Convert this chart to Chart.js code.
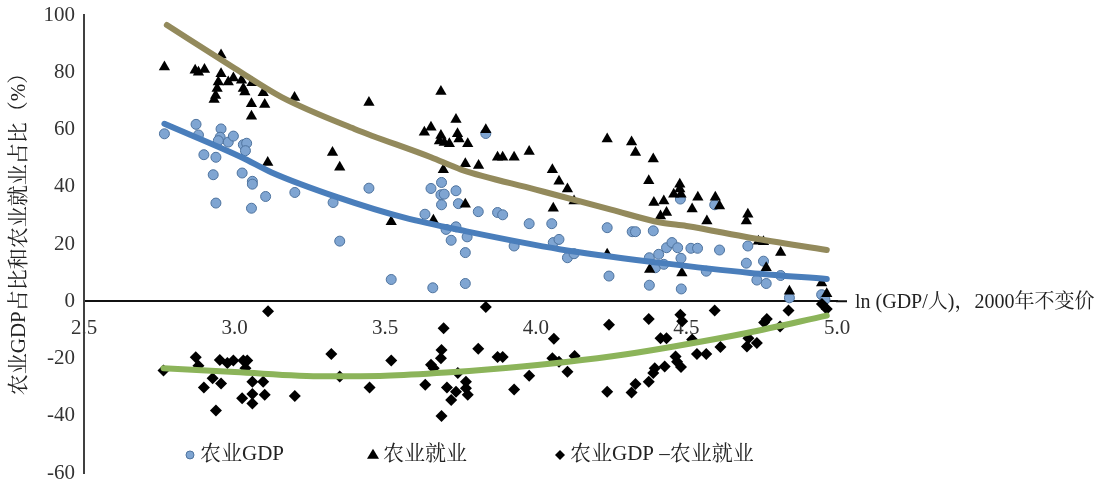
<!DOCTYPE html>
<html lang="zh">
<head>
<meta charset="utf-8">
<title>农业GDP占比和农业就业占比</title>
<script src="https://cdn.jsdelivr.net/npm/chart.js@4.4.1/dist/chart.umd.min.js"></script>
<style>
  html, body { margin: 0; padding: 0; background: #ffffff; }
  #wrap { width: 1108px; height: 481px; position: relative; }
</style>
</head>
<body>
<div id="wrap"><canvas id="chart" width="1108" height="481"></canvas></div>
<script>
// 农业GDP占比（%），横轴为 ln(人均GDP)
const gdpX = [2.767,2.872,2.88,2.955,2.952,2.946,2.979,2.996,3.029,3.04,3.036,2.898,2.938,2.929,3.025,3.059,3.059,3.103,2.938,3.056,
  3.20,3.327,3.446,3.349,3.52,3.658,3.766,3.632,3.652,3.687,3.685,3.696,3.687,3.735,3.743,3.702,3.735,3.719,3.772,3.766,
  3.834,3.809,3.873,3.89,3.928,3.978,4.053,4.058,4.077,4.105,4.127,4.237,4.243,4.32,4.331,4.39,4.377,4.408,4.377,4.397,
  4.434,4.452,4.471,4.48,4.425,4.482,4.483,4.515,4.537,4.566,4.61,4.594,4.704,4.699,4.756,4.734,4.765,4.813,4.842,4.949,4.96];
const gdpY = [58.5,61.8,58.1,60.2,57.3,56.1,55.6,57.7,54.7,55.2,52.6,51.2,50.3,44.2,44.8,41.9,40.9,36.6,34.3,32.5,
  38,34.5,39.5,21,7.6,4.7,6.2,30.4,39.4,41.5,37.2,37.4,33.7,38.6,34.1,25.1,26,21.3,22.5,17,
  58.6,31.3,31,30.2,19.3,27.1,27.1,20.5,21.6,15.2,16.6,25.7,8.8,24.3,24.3,24.6,15.2,16.4,5.6,11.7,
  18.7,20.5,18.7,35.7,12.9,15,4.3,18.5,18.5,10.5,17.9,33.7,19.3,13.3,14,7.4,6.2,9,1.2,2.3,0.6];

// 农业就业占比（%）
const empX = [2.767,2.869,2.88,2.90,2.955,2.955,2.946,2.942,2.937,2.932,2.979,2.996,3.023,3.029,3.034,3.058,3.095,3.056,3.10,3.056,
  3.11,3.199,3.446,3.325,3.349,3.52,3.685,3.735,3.63,3.652,3.685,3.68,3.696,3.713,3.74,3.745,3.774,3.693,3.766,3.766,
  3.66,3.834,3.81,3.873,3.89,3.928,3.978,4.237,4.318,4.331,4.39,4.055,4.077,4.105,4.127,4.058,4.237,4.375,4.392,4.378,
  4.478,4.478,4.458,4.482,4.425,4.434,4.414,4.519,4.538,4.596,4.61,4.568,4.704,4.699,4.739,4.756,4.813,4.765,4.485,4.842,4.949,4.966];
const empY = [81.8,80.7,80,81,86,79.5,76.6,74.3,71.9,70.5,76.6,78,77.2,74.3,73.1,76.3,72.8,69,68.7,64.6,
  48.5,71.2,69.4,52,46.8,27.8,73.3,63.5,59,60.8,57.9,56,55.5,55,58.5,56.7,55,45.9,48,33.9,
  28.3,59.9,47.4,50.3,50.3,50.3,52.3,56.7,55.6,52,49.7,45.9,41.9,39.2,35,32.5,16.4,42.1,34.5,11.1,
  40.9,39.2,37.4,37.4,35,31,29.8,32.2,36.3,36.3,33.3,28,30.4,28,21,20.8,17,11.7,9.9,3.5,6.4,2.6];

// 农业GDP占比 − 农业就业占比（百分点）
const diffX = [3.111,2.764,2.871,2.88,2.898,2.927,2.938,2.951,2.955,2.976,2.996,3.029,3.042,3.036,3.025,3.059,3.059,3.059,3.095,3.10,
  3.20,3.321,3.349,3.448,3.52,3.633,3.652,3.661,3.685,3.687,3.694,3.687,3.705,3.719,3.735,3.741,3.768,3.768,3.774,3.809,
  3.834,3.873,3.89,3.928,3.978,4.06,4.055,4.077,4.105,4.129,4.243,4.237,4.318,4.331,4.375,4.375,4.39,4.395,4.414,4.434,
  4.428,4.48,4.486,4.464,4.469,4.482,4.519,4.535,4.566,4.594,4.613,4.701,4.706,4.734,4.758,4.767,4.811,4.839,4.966,4.95];
const diffY = [-3.5,-24.2,-19.6,-22.5,-30.1,-26.9,-38.2,-20.5,-28.7,-21.6,-20.7,-20.7,-20.7,-23.4,-33.9,-28.1,-32.4,-35.7,-28.1,-32.7,
  -33.1,-18.4,-26.3,-30.1,-20.7,-29.2,-22.2,-23.4,-19.9,-17,-9.4,-40.1,-30.1,-34.5,-31.6,-25.1,-28.1,-30.4,-32.7,-16.6,
  -2,-19.5,-19.5,-30.8,-26,-13.1,-19.9,-21.1,-24.6,-19.1,-8.2,-31.6,-31.9,-28.9,-6.2,-28.1,-25.1,-23.4,-12.9,-12.9,
  -22.8,-4.7,-7,-19.3,-21.1,-23,-13.4,-18.4,-18.4,-3.2,-16,-15.8,-12.9,-14.6,-7.4,-6.2,-8.8,-3.2,-2.7,-1];

// 趋势线取值
const empTrendX = [2.775,3.0,3.156,3.398,3.652,3.752,4.0,4.25,4.414,4.5,4.712,4.966];
const empTrendY = [96.5,81.4,71.3,60.2,50.3,46,39,32,27.5,26.3,22.2,17.9];
const gdpTrendX = [2.767,3.023,3.123,3.343,3.564,3.77,4.083,4.414,4.712,4.966];
const gdpTrendY = [62,50.3,45,36.3,29.2,24.4,18.1,13.4,9.9,7.8];
const diffTrendX = [2.764,3.0,3.3,3.5,3.702,3.9,4.1,4.3,4.458,4.7,4.966];
const diffTrendY = [-23.4,-24.7,-26.2,-26,-24.9,-23.3,-21.2,-18.5,-15.8,-11.1,-5];

// 坐标轴刻度
const xTicks = [2.5, 3.0, 3.5, 4.0, 4.5, 5.0];
const yTicks = [-60, -40, -20, 0, 20, 40, 60, 80, 100];

const seriesNames = ['农业GDP', '农业就业', '农业GDP –农业就业'];
const xTitle = 'ln (GDP/人)，2000年不变价';
const yTitle = '农业GDP占比和农业就业占比（%）';

const pts = (xs, ys) => xs.map((x, i) => ({ x: x, y: ys[i] }));

const SERIF = "'Liberation Serif', 'Times New Roman', 'Noto Serif CJK SC', 'Noto Sans CJK SC', serif";
const CJK = "'Liberation Serif', 'Noto Serif CJK SC', 'Noto Sans CJK SC', serif";

const COL_GDP_FILL = '#7fa5d2';
const COL_GDP_EDGE = '#4e739e';
const COL_EMP_LINE = '#938a5c';
const COL_GDP_LINE = '#4a7ebb';
const COL_DIFF_LINE = '#8cb45a';

function drawMarker(ctx, style, x, y, r, fill, stroke) {
  ctx.save();
  ctx.beginPath();
  if (style === 'circle') {
    ctx.arc(x, y, r, 0, Math.PI * 2);
  } else if (style === 'triangle') {
    const h = r * 1.7;
    ctx.moveTo(x, y - h * 0.62);
    ctx.lineTo(x + r, y + h * 0.38);
    ctx.lineTo(x - r, y + h * 0.38);
    ctx.closePath();
  } else {
    ctx.moveTo(x, y - r);
    ctx.lineTo(x + r, y);
    ctx.lineTo(x, y + r);
    ctx.lineTo(x - r, y);
    ctx.closePath();
  }
  ctx.fillStyle = fill;
  ctx.fill();
  if (stroke) { ctx.strokeStyle = stroke; ctx.lineWidth = 1; ctx.stroke(); }
  ctx.restore();
}

// 图例与坐标轴标题
const annotations = {
  id: 'annotations',
  afterDraw(chart) {
    const ctx = chart.ctx;
    const xs = chart.scales.x, ys = chart.scales.y;
    ctx.save();
    // 横轴向右稍作延伸
    const y0 = ys.getPixelForValue(0);
    ctx.strokeStyle = '#111';
    ctx.lineWidth = 2;
    ctx.beginPath();
    ctx.moveTo(xs.right - 1, y0);
    ctx.lineTo(xs.right + 10, y0);
    ctx.stroke();

    // x 轴标题（位于横轴末端右侧）
    ctx.font = '20px ' + CJK;
    ctx.fillStyle = '#222';
    ctx.textAlign = 'left';
    ctx.textBaseline = 'middle';
    ctx.fillText(xTitle, xs.right + 18, y0 + 1);

    // y 轴标题（竖排）
    ctx.save();
    ctx.translate(19, 229);
    ctx.rotate(-Math.PI / 2);
    ctx.textAlign = 'center';
    ctx.font = '21px ' + CJK;
    ctx.fillText(yTitle, 0, 0);
    ctx.restore();

    // 图例
    const ly = ys.getPixelForValue(-53.7);
    const items = [
      { px: 190, style: 'circle', r: 4, fill: COL_GDP_FILL, stroke: COL_GDP_EDGE },
      { px: 373, style: 'triangle', r: 6, fill: '#000' },
      { px: 560, style: 'diamond', r: 5, fill: '#000' }
    ];
    ctx.font = '21px ' + CJK;
    ctx.textAlign = 'left';
    ctx.textBaseline = 'middle';
    items.forEach((it, i) => {
      drawMarker(ctx, it.style, it.px, ly, it.r, it.fill, it.stroke);
      ctx.fillStyle = '#222';
      ctx.fillText(seriesNames[i], it.px + 10, ly);
    });
    ctx.restore();
  }
};

const trendStyle = (color) => ({
  type: 'line',
  borderColor: color,
  borderWidth: 6,
  pointRadius: 0,
  fill: false,
  cubicInterpolationMode: 'monotone',
  borderCapStyle: 'round'
});

new Chart(document.getElementById('chart'), {
  type: 'scatter',
  data: {
    datasets: [
      Object.assign({ label: '趋势-就业', data: pts(empTrendX, empTrendY), order: 0 }, trendStyle(COL_EMP_LINE)),
      Object.assign({ label: '趋势-GDP', data: pts(gdpTrendX, gdpTrendY), order: 0 }, trendStyle(COL_GDP_LINE)),
      Object.assign({ label: '趋势-差值', data: pts(diffTrendX, diffTrendY), order: 0 }, trendStyle(COL_DIFF_LINE)),
      {
        label: seriesNames[1], data: pts(empX, empY), order: 1,
        pointStyle: 'triangle', pointRadius: 6.5,
        backgroundColor: '#000', borderColor: '#000', borderWidth: 0
      },
      {
        label: seriesNames[2], data: pts(diffX, diffY), order: 2,
        pointStyle: 'rectRot', pointRadius: 6,
        backgroundColor: '#000', borderColor: '#000', borderWidth: 0
      },
      {
        label: seriesNames[0], data: pts(gdpX, gdpY), order: 3,
        pointStyle: 'circle', pointRadius: 5,
        backgroundColor: COL_GDP_FILL, borderColor: COL_GDP_EDGE, borderWidth: 1
      }
    ]
  },
  options: {
    responsive: false,
    animation: false,
    layout: { padding: { left: 0, right: 271, top: 15, bottom: 8 } },
    plugins: { legend: { display: false }, tooltip: { enabled: false } },
    scales: {
      x: {
        type: 'linear',
        position: { y: 0 },
        min: 2.5, max: 5.0,
        afterBuildTicks: (s) => { s.ticks = xTicks.map(v => ({ value: v })); },
        afterFit: (s) => { s.paddingTop = 0; s.paddingBottom = 0; },
        ticks: {
          padding: 15,
          color: '#333',
          font: { family: SERIF, size: 21 },
          callback: (v) => Number(v).toFixed(1),
          maxRotation: 0, autoSkip: false
        },
        grid: { display: false, drawTicks: false },
        border: { display: true, color: '#111', width: 2 }
      },
      y: {
        type: 'linear',
        position: 'left',
        min: -60, max: 100,
        afterBuildTicks: (s) => { s.ticks = yTicks.map(v => ({ value: v })); },
        afterFit: (s) => { s.width = 84; s.paddingTop = 0; s.paddingBottom = 0; },
        ticks: {
          padding: 9,
          color: '#333',
          font: { family: SERIF, size: 21 },
          callback: (v) => String(v)
        },
        grid: { display: false, drawTicks: false },
        border: { display: true, color: '#404040', width: 2 }
      }
    }
  },
  plugins: [annotations]
});
</script>
</body>
</html>
